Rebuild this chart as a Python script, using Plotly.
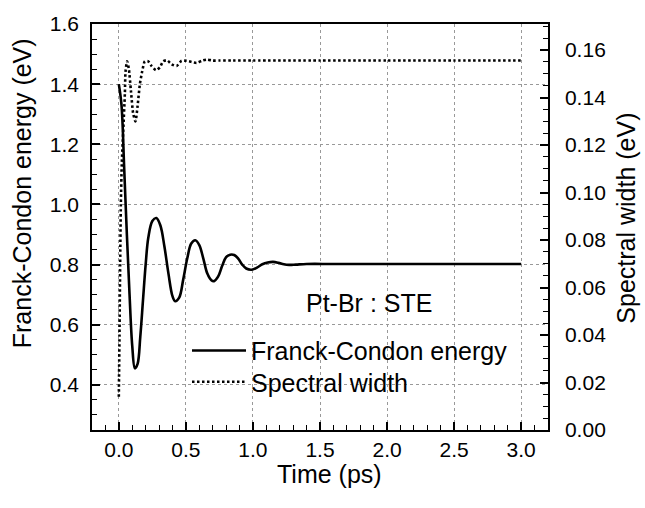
import plotly.graph_objects as go

# Franck-Condon energy (left axis, eV) vs time (ps)
fc_time = [0.00, 0.02, 0.04, 0.06, 0.08, 0.10, 0.12, 0.14, 0.16, 0.18, 0.20, 0.22, 0.25, 0.28,
           0.31, 0.34, 0.37, 0.40, 0.42, 0.45, 0.48, 0.51, 0.54, 0.57, 0.60, 0.63, 0.66, 0.69,
           0.71, 0.74, 0.77, 0.80, 0.83, 0.86, 0.89, 0.92, 0.95, 0.99, 1.03, 1.07, 1.11, 1.15,
           1.19, 1.23, 1.27, 1.32, 1.40, 1.60, 2.00, 2.50, 3.00]
fc_energy = [1.40, 1.33, 1.12, 0.90, 0.70, 0.53, 0.455, 0.47, 0.56, 0.68, 0.80, 0.89, 0.945, 0.955,
             0.93, 0.86, 0.77, 0.695, 0.678, 0.69, 0.75, 0.82, 0.87, 0.881, 0.865, 0.82, 0.77, 0.748,
             0.745, 0.76, 0.795, 0.825, 0.833, 0.832, 0.82, 0.80, 0.787, 0.783, 0.790, 0.801, 0.807, 0.809,
             0.806, 0.801, 0.799, 0.800, 0.802, 0.802, 0.802, 0.802, 0.802]

# Spectral width (right axis, eV) vs time (ps)
sw_time = [0.000, 0.005, 0.010, 0.015, 0.022, 0.032, 0.045, 0.050, 0.062, 0.075, 0.090, 0.107,
           0.124, 0.140, 0.157, 0.174, 0.194, 0.219, 0.244, 0.277, 0.307, 0.331, 0.361, 0.394,
           0.431, 0.468, 0.506, 0.543, 0.580, 0.618, 0.655, 0.700, 0.750, 0.850, 1.00, 1.50,
           2.00, 2.50, 3.00]
sw_width = [0.014, 0.040, 0.070, 0.095, 0.112, 0.125, 0.1416, 0.151, 0.1553, 0.152, 0.143, 0.1333,
            0.130, 0.1365, 0.1457, 0.151, 0.1553, 0.1553, 0.1533, 0.1515, 0.1528, 0.1553, 0.1557, 0.1540,
            0.1533, 0.1555, 0.1555, 0.1550, 0.1546, 0.1555, 0.1560, 0.1556, 0.1556, 0.1556, 0.1556, 0.1556,
            0.1556, 0.1556, 0.1556]

series_names = ["Franck-Condon energy", "Spectral width"]
x_title = "Time (ps)"
y_title = "Franck-Condon energy (eV)"
y2_title = "Spectral width (eV)"
label_text = "Pt-Br : STE"

FONT = "Liberation Sans, Arial, sans-serif"
L, R, T, B = 92, 548, 15, 430
PW, PH = R - L, B - T


def px(xp):
    return (xp - L) / PW


def py(yp):
    return (B - yp) / PH


fig = go.Figure()
fig.add_trace(go.Scatter(x=fc_time, y=fc_energy, mode="lines", name=series_names[0],
                         line=dict(color="black", width=2.6, shape="spline", smoothing=1.0),
                         yaxis="y", legend="legend"))
fig.add_trace(go.Scatter(x=sw_time, y=sw_width, mode="lines", name=series_names[1],
                         line=dict(color="black", width=2.6, dash="2.5px,2.5px", shape="spline", smoothing=0.6),
                         yaxis="y2", legend="legend2"))

axis_common = dict(showline=True, linecolor="black", linewidth=1.5, ticks="inside",
                   tickcolor="black", tickwidth=1.5, ticklen=8, zeroline=False,
                   tickfont=dict(family=FONT, size=21, color="black"))
legend_common = dict(xanchor="left", yanchor="middle", bgcolor="rgba(0,0,0,0)",
                     font=dict(family=FONT, size=25, color="black"), itemwidth=54)

fig.update_layout(
    width=645, height=508,
    margin=dict(l=L, r=645 - R, t=T, b=508 - B),
    paper_bgcolor="white", plot_bgcolor="white",
    font=dict(family=FONT, color="black"),
    xaxis=dict(range=[-0.2, 3.2], dtick=0.5, tick0=0, tickformat=".1f", mirror=True,
               showgrid=True, gridcolor="#999999", griddash="dot", gridwidth=1,
               minor=dict(dtick=0.1, ticks="inside", ticklen=5, tickcolor="black", tickwidth=1.3, showgrid=False),
               ticklabelstandoff=0, **axis_common),
    yaxis=dict(range=[0.25, 1.6], dtick=0.2, tick0=0.4, tickformat=".1f",
               showgrid=True, gridcolor="#999999", griddash="dot", gridwidth=1,
               minor=dict(dtick=0.05, ticks="inside", ticklen=5, tickcolor="black", tickwidth=1.3, showgrid=False),
               ticklabelstandoff=7, **axis_common),
    yaxis2=dict(range=[0, 0.171], dtick=0.02, tick0=0, tickformat=".2f", overlaying="y", side="right",
                showgrid=False,
                minor=dict(dtick=0.005, ticks="inside", ticklen=5, tickcolor="black", tickwidth=1.3),
                ticklabelstandoff=11, **axis_common),
    legend=dict(x=px(187), y=py(349), **legend_common),
    legend2=dict(x=px(187), y=py(381), **legend_common),
    showlegend=True,
)

fig.add_annotation(x=1.865, y=0.673, xref="x", yref="y", text=label_text, showarrow=False,
                   xanchor="center", yanchor="middle",
                   font=dict(family=FONT, size=25, color="black"))
fig.add_annotation(x=px(329), y=py(475), xref="paper", yref="paper", text=x_title, showarrow=False,
                   xanchor="center", yanchor="middle",
                   font=dict(family=FONT, size=25, color="black"))
fig.add_annotation(x=px(22), y=py(188), xref="paper", yref="paper", text=y_title,
                   showarrow=False, textangle=-90, xanchor="center", yanchor="middle",
                   font=dict(family=FONT, size=25, color="black"))
fig.add_annotation(x=px(626), y=py(214), xref="paper", yref="paper", text=y2_title,
                   showarrow=False, textangle=-90, xanchor="center", yanchor="middle",
                   font=dict(family=FONT, size=25, color="black"))

fig.write_html("out.html")
